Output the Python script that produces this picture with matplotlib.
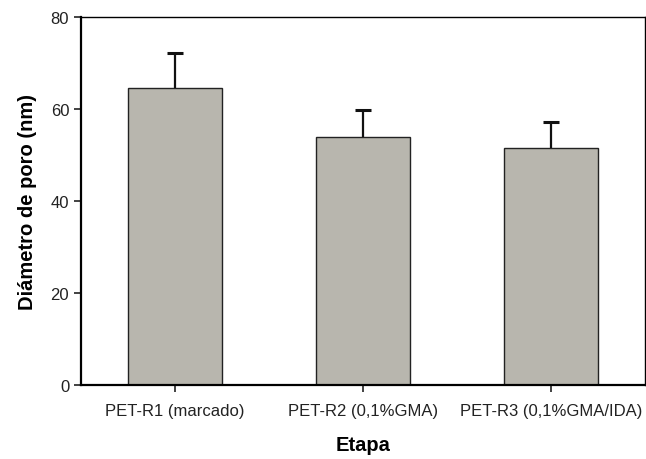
import matplotlib
matplotlib.use("Agg")
import matplotlib.pyplot as plt
import numpy as np

plt.rcParams['font.family'] = ['Liberation Sans', 'DejaVu Sans']

categories = ["PET-R1 (marcado)", "PET-R2 (0,1%GMA)", "PET-R3 (0,1%GMA/IDA)"]
means = [64.5, 53.9, 51.5]
errors = [7.7, 5.9, 5.7]

fig = plt.figure(figsize=(6.46, 4.60), dpi=100)
ax = fig.add_axes([0.1254, 0.1609, 0.8726, 0.8001])

x = np.arange(len(categories))
tops = np.array(means) + np.array(errors)
ax.bar(x, means, width=0.5, color='#b8b6ae', edgecolor='#222222', linewidth=1.0, zorder=2)
# upper error bars only
ax.vlines(x, means, tops, color='#111111', linewidth=1.6, zorder=3)
ax.plot(x, tops, linestyle='none', marker='_', markersize=11, markeredgewidth=2.2,
        color='#111111', zorder=3)

ax.set_xlim(-0.5, 2.5)
ax.set_ylim(0, 80)
ax.set_yticks([0, 20, 40, 60, 80])
ax.set_xticks(x)
ax.set_xticklabels(categories)
ax.tick_params(direction='out', length=5, width=1.2, labelsize=12, colors='#222222')
ax.tick_params(axis='x', pad=8)
for s in ax.spines.values():
    s.set_linewidth(1.0)
ax.spines['left'].set_linewidth(1.6)
ax.spines['bottom'].set_linewidth(1.6)

ax.set_xlabel("Etapa", fontsize=14.5, fontweight='bold', labelpad=12)
ax.set_ylabel("Diámetro de poro (nm)", fontsize=14.5, fontweight='bold', labelpad=10)

fig.savefig("out.png", dpi=100)
